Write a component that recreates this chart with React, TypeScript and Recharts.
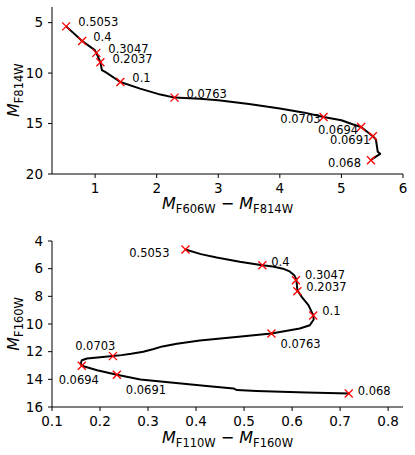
import React from 'react';
import { ComposedChart, Line, Scatter, XAxis, YAxis } from 'recharts';

// ---------- top panel (F606W - F814W vs F814W) ----------
const topCurveColor = [0.53, 0.79, 0.99, 1.02, 1.086, 1.11, 1.17, 1.41, 1.73, 2.06, 2.29, 2.7, 3.0, 3.5, 4.0, 4.4, 4.71, 5.0, 5.18, 5.32, 5.51, 5.56, 5.59, 5.63, 5.51, 5.48];
const topCurveMag = [5.37, 6.82, 7.7, 8.0, 8.93, 9.7, 9.9, 10.88, 11.54, 12.13, 12.43, 12.55, 12.69, 13.06, 13.5, 13.92, 14.35, 14.67, 15.07, 15.34, 16.26, 16.58, 17.8, 18.0, 18.47, 18.63];
const topMasses = ['0.5053', '0.4', '0.3047', '0.2037', '0.1', '0.0763', '0.0703', '0.0694', '0.0691', '0.068'];
const topMarkerColor = [0.53, 0.79, 1.02, 1.086, 1.41, 2.29, 4.71, 5.32, 5.51, 5.48];
const topMarkerMag = [5.37, 6.82, 8.0, 8.93, 10.88, 12.43, 14.35, 15.34, 16.26, 18.63];
const topXTicks = [1, 2, 3, 4, 5, 6];
const topYTicks = [5, 10, 15, 20];

// ---------- bottom panel (F110W - F160W vs F160W) ----------
const botCurveColor = [0.378, 0.41, 0.443, 0.491, 0.538, 0.56, 0.581, 0.595, 0.605, 0.609, 0.611, 0.62, 0.634, 0.644, 0.645, 0.637, 0.616, 0.557, 0.478, 0.408, 0.36, 0.33, 0.31, 0.29, 0.265, 0.245, 0.227, 0.173, 0.162, 0.16, 0.162, 0.194, 0.235, 0.284, 0.353, 0.422, 0.478, 0.485, 0.526, 0.63, 0.719];
const botCurveMag = [4.62, 4.95, 5.2, 5.5, 5.75, 5.85, 6.0, 6.2, 6.5, 6.79, 7.56, 8.04, 8.64, 9.36, 9.67, 10.09, 10.33, 10.69, 10.95, 11.2, 11.42, 11.62, 11.82, 12.0, 12.15, 12.25, 12.32, 12.49, 12.62, 12.85, 13.02, 13.34, 13.67, 14.01, 14.25, 14.49, 14.66, 14.78, 14.85, 14.95, 15.02];
const botMasses = ['0.5053', '0.4', '0.3047', '0.2037', '0.1', '0.0763', '0.0703', '0.0694', '0.0691', '0.068'];
const botMarkerColor = [0.378, 0.538, 0.608, 0.611, 0.644, 0.557, 0.227, 0.162, 0.235, 0.718];
const botMarkerMag = [4.62, 5.75, 6.84, 7.63, 9.39, 10.69, 12.32, 13.02, 13.67, 15.02];
const botXTicks = [0.1, 0.2, 0.3, 0.4, 0.5, 0.6, 0.7, 0.8];
const botYTicks = [4, 6, 8, 10, 12, 14, 16];

// ---------- label placement (style, pixels relative to marker) ----------
const topLabelPlace = [
  { a: 'start', dx: 12, dy: 0 },
  { a: 'start', dx: 11, dy: 0 },
  { a: 'start', dx: 12, dy: 0.5 },
  { a: 'start', dx: 12, dy: 1 },
  { a: 'start', dx: 12, dy: 0 },
  { a: 'start', dx: 12, dy: 0 },
  { a: 'end', dx: -3, dy: 6.5 },
  { a: 'end', dx: -3, dy: 7.5 },
  { a: 'end', dx: -2.5, dy: 8 },
  { a: 'end', dx: -10, dy: 7 },
];
const botLabelPlace = [
  { a: 'end', dx: -16, dy: 7.6 },
  { a: 'start', dx: 9, dy: 0.5 },
  { a: 'start', dx: 9, dy: -0.8 },
  { a: 'start', dx: 9, dy: 0 },
  { a: 'start', dx: 9, dy: -0.4 },
  { a: 'start', dx: 9, dy: 14.2 },
  { a: 'middle', dx: -17.7, dy: -5.8 },
  { a: 'middle', dx: -3, dy: 17.8 },
  { a: 'start', dx: 9, dy: 19.5 },
  { a: 'start', dx: 9, dy: 1.6 },
];

const FONT = 'DejaVu Sans, sans-serif';

const makeCurve = (xs: number[], ys: number[]) => xs.map((x, i) => ({ x, y: ys[i] }));
const makeMarkers = (xs: number[], ys: number[], ms: string[]) => xs.map((x, i) => ({ x, y: ys[i], m: ms[i], i }));

const markerShape = (place: any[]) => (props: any) => {
  const { cx, cy, payload } = props;
  if (cx == null || cy == null) return <g />;
  const p = place[payload.i];
  const s = 4;
  return (
    <g>
      <line x1={cx - s} y1={cy - s} x2={cx + s} y2={cy + s} stroke="#ff0000" strokeWidth={1.3} />
      <line x1={cx - s} y1={cy + s} x2={cx + s} y2={cy - s} stroke="#ff0000" strokeWidth={1.3} />
      <text x={cx + p.dx} y={cy + p.dy} textAnchor={p.a} fontSize={11.5} fill="#000" fontFamily={FONT}>
        {payload.m}
      </text>
    </g>
  );
};

const MathLabel = ({ x, y, sub1, sub2, rotate }: any) => (
  <text
    x={x}
    y={y}
    textAnchor="middle"
    fontFamily={FONT}
    fontSize={16}
    fill="#000"
    transform={rotate ? `rotate(-90, ${x}, ${y})` : undefined}
  >
    <tspan fontStyle="italic">M</tspan>
    <tspan fontSize={11.5} dy={4}>{sub1}</tspan>
    {sub2 ? (
      <>
        <tspan dy={-4}>{' \u2212 '}</tspan>
        <tspan fontStyle="italic">M</tspan>
        <tspan fontSize={11.5} dy={4}>{sub2}</tspan>
      </>
    ) : null}
  </text>
);

type PanelProps = {
  top: number;
  height: number;
  marginTop: number;
  marginBottom: number;
  curve: { x: number; y: number }[];
  markers: any[];
  place: any[];
  xDomain: [number, number];
  yDomain: [number, number];
  xTicks: number[];
  yTicks: number[];
  xFmt: (v: number) => string;
  xLabel: [string, string];
  yLabel: string;
  xLabelY: number;
  yLabelY: number;
};

const Panel = (p: PanelProps) => (
  <div style={{ position: 'absolute', left: 0, top: p.top }}>
    <ComposedChart
      width={415}
      height={p.height}
      margin={{ top: p.marginTop, right: 12, bottom: p.marginBottom, left: 0 }}
      style={{ fontFamily: FONT }}
    >
      <XAxis
        dataKey="x"
        type="number"
        domain={p.xDomain}
        ticks={p.xTicks}
        tickFormatter={p.xFmt}
        allowDataOverflow
        height={30}
        tickSize={4}
        tickMargin={5}
        axisLine={{ stroke: '#000', strokeWidth: 1 }}
        tickLine={{ stroke: '#000' }}
        tick={{ fill: '#000', fontSize: 13.5, fontFamily: FONT }}
        label={{ content: () => <MathLabel x={227.5} y={p.xLabelY} sub1={p.xLabel[0]} sub2={p.xLabel[1]} /> }}
      />
      <YAxis
        dataKey="y"
        type="number"
        domain={p.yDomain}
        ticks={p.yTicks}
        reversed
        allowDataOverflow
        width={52}
        tickSize={4}
        tickMargin={5}
        axisLine={{ stroke: '#000', strokeWidth: 1 }}
        tickLine={{ stroke: '#000' }}
        tick={{ fill: '#000', fontSize: 13.5, fontFamily: FONT }}
        label={{ content: () => <MathLabel x={19.5} y={p.yLabelY} sub1={p.yLabel} rotate /> }}
      />
      <XAxis xAxisId="frameTop" orientation="top" type="number" domain={p.xDomain} height={0} tick={false} tickLine={false} axisLine={{ stroke: '#000', strokeWidth: 1 }} />
      <YAxis yAxisId="frameRight" orientation="right" type="number" domain={p.yDomain} width={0} tick={false} tickLine={false} axisLine={{ stroke: '#000', strokeWidth: 1 }} />
      <Line
        data={p.curve}
        dataKey="y"
        type="linear"
        stroke="#000"
        strokeWidth={2}
        strokeLinejoin="round"
        dot={false}
        activeDot={false}
        isAnimationActive={false}
      />
      <Scatter data={p.markers} dataKey="y" shape={markerShape(p.place)} isAnimationActive={false} />
    </ComposedChart>
  </div>
);

export default function App() {
  return (
    <div style={{ position: 'absolute', left: 0, top: 0, width: 415, height: 455, background: '#fff', fontFamily: FONT }}>
      <Panel
        top={0}
        height={215}
        marginTop={7}
        marginBottom={11}
        curve={makeCurve(topCurveColor, topCurveMag)}
        markers={makeMarkers(topMarkerColor, topMarkerMag, topMasses)}
        place={topLabelPlace}
        xDomain={[0.3, 6]}
        yDomain={[3.45, 20]}
        xTicks={topXTicks}
        yTicks={topYTicks}
        xFmt={(v) => String(v)}
        xLabel={['F606W', 'F814W']}
        yLabel="F814W"
        xLabelY={209.3}
        yLabelY={90.2}
      />
      <Panel
        top={220}
        height={235}
        marginTop={21}
        marginBottom={18}
        curve={makeCurve(botCurveColor, botCurveMag)}
        markers={makeMarkers(botMarkerColor, botMarkerMag, botMasses)}
        place={botLabelPlace}
        xDomain={[0.1, 0.831]}
        yDomain={[4, 16]}
        xTicks={botXTicks}
        yTicks={botYTicks}
        xFmt={(v) => v.toFixed(1)}
        xLabel={['F110W', 'F160W']}
        yLabel="F160W"
        xLabelY={223.3}
        yLabelY={103.9}
      />
    </div>
  );
}
